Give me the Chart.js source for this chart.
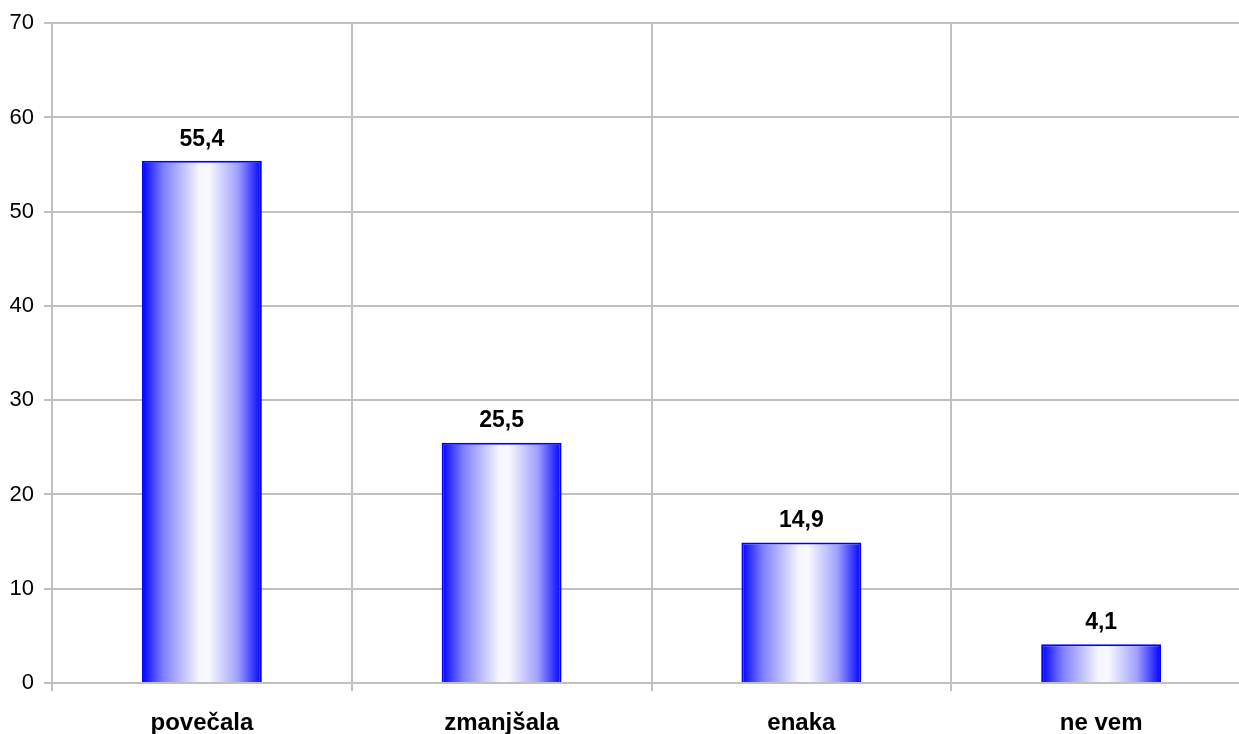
<!DOCTYPE html>
<html>
<head>
<meta charset="utf-8">
<script src="https://cdn.jsdelivr.net/npm/chart.js@4"></script>
<style>
  html, body { margin: 0; padding: 0; background: #fff; overflow: hidden; }
  #wrap { width: 1251px; height: 734px; position: relative; }
</style>
</head>
<body>
<div id="wrap"><canvas id="barChart"></canvas></div>
<script>
const categories = ['povečala', 'zmanjšala', 'enaka', 'ne vem'];
const values = [55.4, 25.5, 14.9, 4.1];
const yTicks = [0, 10, 20, 30, 40, 50, 60, 70];

const gridColor = '#c0c0c0';
const font = 'Liberation Sans, Arial, sans-serif';

// horizontal blue-white-blue shading across each bar
function barGradient(ctx) {
  const chart = ctx.chart;
  const xScale = chart.scales.x;
  if (!chart.chartArea || !xScale) return '#0000ff';
  const cx = xScale.getPixelForValue(ctx.dataIndex);
  const half = (xScale.getPixelForValue(1) - xScale.getPixelForValue(0)) * 0.4 / 2;
  const g = chart.ctx.createLinearGradient(cx - half, 0, cx + half, 0);
  g.addColorStop(0, '#0000ff');
  g.addColorStop(0.18, '#7f7fff');
  g.addColorStop(0.48, '#f6f6ff');
  g.addColorStop(0.56, '#f8f8ff');
  g.addColorStop(0.8, '#a0a0ff');
  g.addColorStop(1, '#0000ff');
  return g;
}

// value above each bar, decimal comma
const valueLabels = {
  id: 'valueLabels',
  afterDatasetsDraw(chart) {
    const ctx = chart.ctx;
    const meta = chart.getDatasetMeta(0);
    ctx.save();
    ctx.font = 'bold 23px ' + font;
    ctx.fillStyle = '#000';
    ctx.textAlign = 'center';
    ctx.textBaseline = 'bottom';
    meta.data.forEach((bar, i) => {
      ctx.fillText(values[i].toFixed(1).replace('.', ','), bar.x, bar.y - 10);
    });
    ctx.restore();
  }
};

new Chart(document.getElementById('barChart'), {
  type: 'bar',
  data: {
    labels: categories,
    datasets: [{
      data: values,
      backgroundColor: barGradient,
      borderColor: '#0000ff',
      borderWidth: { top: 2, left: 2, right: 2, bottom: 0 },
      borderSkipped: 'start',
      barPercentage: 1,
      categoryPercentage: 0.4
    }]
  },
  options: {
    responsive: true,
    maintainAspectRatio: false,
    animation: false,
    layout: { padding: { top: 22, left: 0, right: 0, bottom: 0 } },
    plugins: { legend: { display: false }, tooltip: { enabled: false } },
    scales: {
      x: {
        offset: true,
        grid: { color: gridColor, lineWidth: 2, offset: true, tickLength: 8 },
        border: { color: gridColor, width: 2 },
        ticks: { color: '#000', font: { family: font, size: 24, weight: 'bold' }, padding: 18 },
        afterFit(scale) { scale.height = 51; }
      },
      y: {
        min: 0,
        max: 70,
        afterBuildTicks(scale) { scale.ticks = yTicks.map(v => ({ value: v })); },
        grid: { color: gridColor, lineWidth: 2, tickLength: 8 },
        border: { color: gridColor, width: 2 },
        ticks: { color: '#000', font: { family: font, size: 22 }, padding: 10 },
        afterFit(scale) { scale.width = 52; }
      }
    }
  },
  plugins: [valueLabels]
});
</script>
</body>
</html>
